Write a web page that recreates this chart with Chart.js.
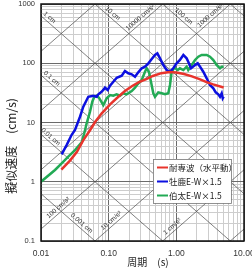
<!DOCTYPE html>
<html>
<head>
<meta charset="utf-8">
<script src="https://cdn.jsdelivr.net/npm/chart.js@4.4.1/dist/chart.umd.min.js"></script>
<style>
  html, body { margin: 0; padding: 0; background: #fff; }
  canvas { display: block; }
</style>
</head>
<body>
<canvas id="spectrum" width="252" height="268"></canvas>
<script>
// periods (s) and pseudo velocity (cm/s)
const taisenPeriod = [0.02, 0.027, 0.034, 0.042, 0.053, 0.063, 0.079, 0.105, 0.139, 0.174, 0.22, 0.28, 0.36, 0.45, 0.6, 0.8, 1.0, 1.3, 1.7, 2.2, 2.8, 3.5, 5.0];
const taisenVel = [1.6, 2.3, 3.2, 5.0, 7.4, 10.2, 14.3, 20.3, 27.2, 34, 41, 48, 54, 61, 68, 71, 70, 66, 60, 54, 48, 44, 39];

const oshikaPeriod = [0.0202, 0.024, 0.0284, 0.0318, 0.0377, 0.0422, 0.0473, 0.05, 0.0593, 0.0665, 0.0703, 0.077, 0.0834, 0.0883, 0.0968, 0.1047, 0.1315, 0.156, 0.174, 0.195, 0.219, 0.245, 0.274, 0.308, 0.344, 0.386, 0.433, 0.484, 0.524, 0.574, 0.642, 0.721, 0.806, 0.902, 1.01, 1.13, 1.27, 1.42, 1.5, 1.65, 1.89, 2.07, 2.24, 2.5, 2.81, 3.14, 3.52, 3.82, 4.17, 4.42, 4.68, 4.85, 5.0];
const oshikaVel = [2.9, 4.2, 6.2, 7.5, 12.5, 18.5, 24, 27.2, 28.3, 27.2, 29.9, 32.3, 35.4, 38.7, 35.4, 41.8, 57, 61.6, 74, 67.6, 65.1, 59.3, 70.3, 82.2, 87.5, 99.8, 118, 138, 147, 121, 93.4, 76.9, 72, 82.2, 99.8, 113.5, 138, 121, 106, 82, 93, 99.8, 87.5, 72, 55.7, 43, 37.8, 32.3, 29.9, 27.2, 31.1, 25.6, 27.2];

const hakutaPeriod = [0.01, 0.0161, 0.0202, 0.0253, 0.0318, 0.0399, 0.0436, 0.0473, 0.053, 0.0573, 0.0614, 0.0665, 0.0719, 0.0789, 0.0834, 0.0935, 0.1047, 0.117, 0.131, 0.147, 0.164, 0.184, 0.195, 0.219, 0.245, 0.274, 0.308, 0.344, 0.365, 0.394, 0.422, 0.457, 0.484, 0.541, 0.608, 0.68, 0.761, 0.806, 0.853, 0.933, 1.05, 1.13, 1.27, 1.42, 1.5, 1.69, 1.89, 2.11, 2.37, 2.81, 3.14, 3.52, 3.94, 4.42, 4.7, 5.0];
const hakutaVel = [1.0, 1.58, 2.05, 2.65, 3.43, 4.63, 6.58, 9.7, 15.2, 22.4, 27.2, 28.3, 26.2, 21.9, 19.7, 25.6, 29.1, 28.3, 29.9, 28.3, 31.1, 29.9, 31.1, 34, 38.7, 45.9, 52.2, 72, 82.2, 71, 48.9, 31.1, 27.2, 32.3, 31.1, 29.9, 31.1, 43, 72, 84, 76.9, 82.2, 76.9, 87.5, 76.9, 93.4, 113.5, 129, 138, 138, 129, 113.5, 93.4, 82.2, 87.5, 87.5];

const seriesNames = ['耐専波（水平動）', '牡鹿E-W×1.5', '伯太E-W×1.5'];
const seriesColors = ['#e8342c', '#0c10e0', '#22aa55'];

const periodRange = [0.01, 10];
const velRange = [0.1, 1000];

// tripartite grid: constant displacement (cm) and acceleration (cm/s2)
const dispLines = [0.001, 0.01, 0.1, 1, 10, 100, 1000];
const accLines = [0.1, 1, 10, 100, 1000, 10000, 100000];

// where the diagonal captions sit: line kind, line value, text, period along the line
const diagLabels = [
  ['d', 1, '1 cm', 0.0121],
  ['d', 10, '10 cm', 0.1035],
  ['d', 100, '100 cm', 1.16],
  ['d', 0.1, '0.1 cm', 0.013],
  ['d', 0.01, '0.01 cm', 0.01256],
  ['d', 0.001, '0.001 cm', 0.036],
  ['a', 10000, '10000 cm/s²', 0.325],
  ['a', 1000, '1000 cm/s²', 3.52],
  ['a', 100, '100 cm/s²', 0.02],
  ['a', 10, '10 cm/s²', 0.121],
  ['a', 1, '1 cm/s²', 0.966]
];

const TWO_PI = 2 * Math.PI;

function pts(periods, vals) {
  return periods.map((t, i) => ({x: t, y: vals[i]}));
}

function isDecade(v) {
  const l = Math.log10(v);
  return Math.abs(l - Math.round(l)) < 1e-9;
}

function logTicks(min, max) {
  let out = [];
  for (let e = Math.floor(Math.log10(min)); e < Math.ceil(Math.log10(max)); e++) {
    for (let k = 1; k <= 9; k++) {
      let v = parseFloat((k * Math.pow(10, e)).toPrecision(6));
      if (v >= min && v <= max) out.push(v);
    }
  }
  out.push(max);
  return out;
}

function velAt(kind, amount, T) {
  return kind == 'd' ? TWO_PI * amount / T : amount * T / TWO_PI;
}

const tripartite = {
  id: 'tripartite',
  beforeDatasetsDraw(chart) {
    const {ctx, chartArea: a, scales: {x, y}} = chart;
    ctx.save();
    ctx.beginPath();
    ctx.rect(a.left, a.top, a.right - a.left, a.bottom - a.top);
    ctx.clip();

    ctx.strokeStyle = '#4a4a4a';
    ctx.lineWidth = 0.7;
    const t0 = periodRange[0], t1 = periodRange[1];
    const drawLine = (kind, amount) => {
      ctx.beginPath();
      ctx.moveTo(x.getPixelForValue(t0), y.getPixelForValue(velAt(kind, amount, t0)));
      ctx.lineTo(x.getPixelForValue(t1), y.getPixelForValue(velAt(kind, amount, t1)));
      ctx.stroke();
    };
    dispLines.forEach(d => drawLine('d', d));
    accLines.forEach(acc => drawLine('a', acc));

    // captions along the lines
    ctx.fillStyle = '#333';
    ctx.font = '6.5px "Liberation Sans"';
    ctx.textAlign = 'center';
    ctx.textBaseline = 'middle';
    diagLabels.forEach(([kind, amount, text, T]) => {
      const px = x.getPixelForValue(T), py = y.getPixelForValue(velAt(kind, amount, T));
      const qx = x.getPixelForValue(T * 2), qy = y.getPixelForValue(velAt(kind, amount, T * 2));
      const ang = Math.atan2(qy - py, qx - px);
      const off = 4.5;
      ctx.save();
      ctx.translate(px + off * Math.sin(ang), py - off * Math.cos(ang));
      ctx.rotate(ang);
      ctx.fillText(text, 0, 0);
      ctx.restore();
    });
    ctx.restore();
  },
  afterDraw(chart) {
    const {ctx, chartArea: a} = chart;
    ctx.save();
    // frame
    ctx.strokeStyle = '#111';
    ctx.lineWidth = 1.5;
    ctx.strokeRect(a.left, a.top, a.right - a.left, a.bottom - a.top);

    // legend box
    const bx = 153, by = 159, bw = 78, bh = 44;
    ctx.fillStyle = '#fff';
    ctx.fillRect(bx, by, bw, bh);
    ctx.strokeStyle = '#777';
    ctx.lineWidth = 0.8;
    ctx.strokeRect(bx + 0.5, by + 0.5, bw, bh);
    ctx.font = '8.5px "Noto Sans CJK JP"';
    ctx.textAlign = 'left';
    ctx.textBaseline = 'middle';
    chart.data.datasets.forEach((ds, i) => {
      const ry = by + 8.5 + i * 14;
      ctx.strokeStyle = ds.borderColor;
      ctx.lineWidth = 2;
      ctx.beginPath();
      ctx.moveTo(bx + 4, ry);
      ctx.lineTo(bx + 15, ry);
      ctx.stroke();
      ctx.fillStyle = '#222';
      ctx.fillText(ds.label, bx + 16, ry);
    });

    // axis titles
    ctx.fillStyle = '#222';
    ctx.textAlign = 'center';
    ctx.font = '10px "Noto Sans CJK JP"';
    ctx.fillText('周期　(s)', 148, 262);
    ctx.save();
    ctx.translate(11, 146);
    ctx.rotate(-Math.PI / 2);
    ctx.font = '12px "Noto Sans CJK JP"';
    ctx.fillText('擬似速度　(cm/s)', 0, 0);
    ctx.restore();
    ctx.restore();
  }
};

const gridColor = (c) => (c.tick && isDecade(c.tick.value)) ? '#6a6a6a' : '#cdcdcd';

new Chart(document.getElementById('spectrum'), {
  type: 'line',
  data: {
    datasets: [
      {label: seriesNames[0], data: pts(taisenPeriod, taisenVel), borderColor: seriesColors[0]},
      {label: seriesNames[1], data: pts(oshikaPeriod, oshikaVel), borderColor: seriesColors[1]},
      {label: seriesNames[2], data: pts(hakutaPeriod, hakutaVel), borderColor: seriesColors[2]}
    ]
  },
  options: {
    responsive: false,
    animation: false,
    devicePixelRatio: 1,
    layout: {padding: {top: 4, right: 8, left: 0, bottom: 0}},
    elements: {
      line: {borderWidth: 2.5, tension: 0, fill: false},
      point: {radius: 0}
    },
    plugins: {legend: {display: false}, tooltip: {enabled: false}},
    scales: {
      x: {
        type: 'logarithmic',
        min: periodRange[0],
        max: periodRange[1],
        afterBuildTicks: (s) => { s.ticks = logTicks(periodRange[0], periodRange[1]).map(v => ({value: v})); },
        afterFit: (s) => { s.height = 27; s.paddingLeft = 0; s.paddingRight = 0; },
        grid: {color: gridColor, lineWidth: 1, drawTicks: false},
        border: {display: false},
        ticks: {
          autoSkip: false,
          maxRotation: 0,
          padding: 8,
          color: '#333',
          font: {family: 'Liberation Sans', size: 8.5},
          callback: (v) => isDecade(v) ? Number(v).toFixed(2) : ''
        }
      },
      y: {
        type: 'logarithmic',
        min: velRange[0],
        max: velRange[1],
        afterBuildTicks: (s) => { s.ticks = logTicks(velRange[0], velRange[1]).map(v => ({value: v})); },
        afterFit: (s) => { s.width = 41; s.paddingTop = 0; s.paddingBottom = 0; },
        grid: {color: gridColor, lineWidth: 1, drawTicks: false},
        border: {display: false},
        ticks: {
          autoSkip: false,
          padding: 6,
          color: '#333',
          font: {family: 'Liberation Sans', size: 7.5},
          callback: (v) => isDecade(v) ? String(v) : ''
        }
      }
    }
  },
  plugins: [tripartite]
});
</script>
</body>
</html>
